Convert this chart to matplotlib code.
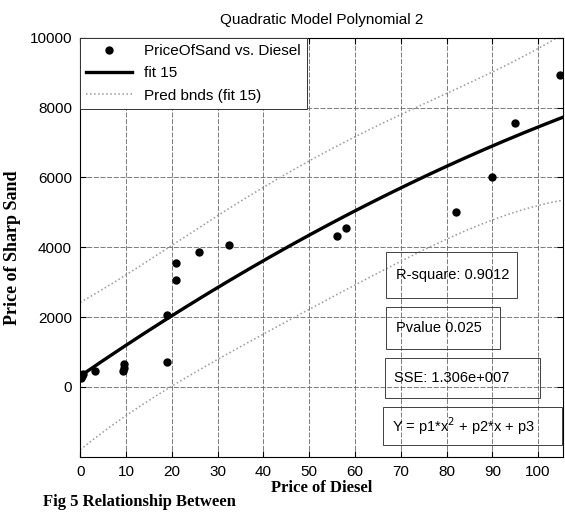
import numpy as np
import matplotlib
matplotlib.use('Agg')
import matplotlib.pyplot as plt
from matplotlib.patches import Rectangle

# data
diesel = [0.2, 0.4, 0.6, 3.3, 9.4, 9.5, 9.6, 19.0, 19.0, 21.0, 21.0, 26.0, 32.5,
          56.0, 58.0, 82.0, 90.0, 95.0, 104.8]
sand = [250, 320, 380, 450, 450, 550, 650, 700, 2050, 3050, 3550, 3870, 4060,
        4330, 4550, 5000, 6000, 7550, 8950]
x_ticks = [0, 10, 20, 30, 40, 50, 60, 70, 80, 90, 100]
y_ticks = [0, 2000, 4000, 6000, 8000, 10000]
stats = ['R-square: 0.9012', 'Pvalue 0.025', 'SSE: 1.306e+007']
t_crit = 2.12  # t(0.975, n-3)

x = np.array(diesel)
y = np.array(sand)

# quadratic fit + prediction bounds
X = np.vander(x, 3)
p = np.linalg.lstsq(X, y, rcond=None)[0]
res = y - X @ p
s2 = np.sum(res ** 2) / (len(x) - 3)
XtX_inv = np.linalg.inv(X.T @ X)
xf = np.linspace(0, 105.5, 300)
Xf = np.vander(xf, 3)
yf = Xf @ p
half = t_crit * np.sqrt(s2 * (1 + np.sum((Xf @ XtX_inv) * Xf, axis=1)))

plt.rcParams['font.family'] = ['Liberation Sans', 'DejaVu Sans']

fig = plt.figure(figsize=(5.65, 5.12), dpi=100)
ax = fig.add_axes([0.142, 0.108, 0.855, 0.818])

ax.plot(x, y, 'k.', markersize=10, label='PriceOfSand vs. Diesel', zorder=4)
ax.plot(xf, yf, 'k-', lw=2.4, label='fit 15', zorder=3)
ax.plot(xf, yf - half, color='0.6', ls=':', lw=1.1, label='Pred bnds (fit 15)')
ax.plot(xf, yf + half, color='0.6', ls=':', lw=1.1)

ax.set_xlim(0, 105.5)
ax.set_ylim(-2000, 10000)
ax.set_xticks(x_ticks)
ax.set_yticks(y_ticks)
ax.tick_params(direction='in', top=True, right=True, length=4, labelsize=11, pad=6)
ax.grid(True, color='0.4', ls=(0, (6, 2)), lw=0.6)
for s in ax.spines.values():
    s.set_linewidth(0.8)

ax.set_title('Quadratic Model Polynomial 2', fontsize=11, pad=10)
ax.set_xlabel('Price of Diesel', family='Liberation Serif', weight='bold', fontsize=12, labelpad=1)
ax.set_ylabel('Price of Sharp Sand', family='Liberation Serif', weight='bold', fontsize=13, labelpad=6)

leg = ax.legend(loc='upper left', borderaxespad=0, fontsize=11, handlelength=3,
                labelspacing=0.55, fancybox=False, framealpha=1, edgecolor='0.2')
leg.get_frame().set_linewidth(0.7)

# stat boxes (no fill, grid shows through)
boxes = [(0.634, 0.38, 0.271, 0.109), (0.634, 0.258, 0.234, 0.1),
         (0.63, 0.141, 0.322, 0.095), (0.626, 0.027, 0.372, 0.092)]
labels = stats + [r'Y = p1*x$^2$ + p2*x + p3']
for (bx, by, bw, bh), txt in zip(boxes, labels):
    ax.add_patch(Rectangle((bx, by), bw, bh, transform=ax.transAxes, fill=False,
                           ec='0.25', lw=0.7, zorder=5))
    ax.text(bx + 0.02, by + bh / 2, txt, transform=ax.transAxes, fontsize=10.5,
            va='center', ha='left', zorder=6)

fig.text(0.076, 0.004, 'Fig 5 Relationship Between', family='Liberation Serif',
         weight='bold', fontsize=12, va='bottom')

fig.savefig('out.png', dpi=100)
